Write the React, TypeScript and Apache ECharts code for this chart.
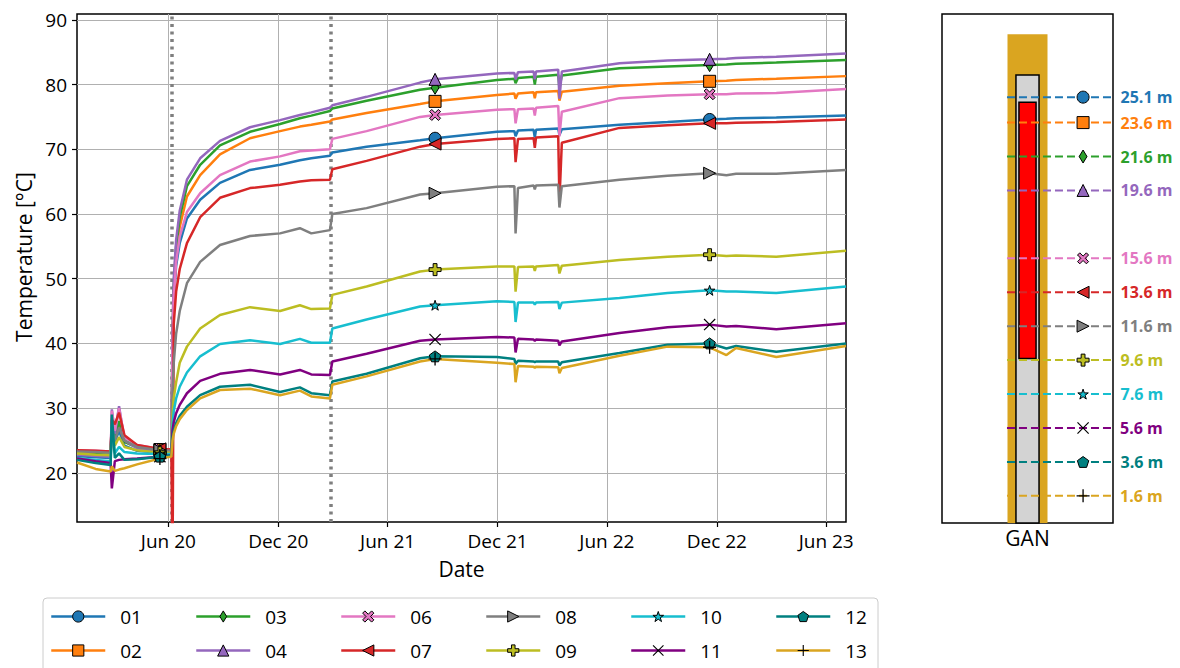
import { useEffect, useRef } from 'react';
import * as echarts from 'echarts';

// Sampling dates shared by every sensor trace
const dates = [
  '2020-01-01', '2020-02-01', '2020-02-26', '2020-02-28', '2020-03-04', '2020-03-11',
  '2020-03-20', '2020-04-10', '2020-05-18', '2020-06-06', '2020-06-08', '2020-06-10',
  '2020-06-14', '2020-06-20', '2020-07-02', '2020-07-24', '2020-08-26', '2020-10-15',
  '2020-12-04', '2021-01-06', '2021-01-25', '2021-02-25', '2021-03-01', '2021-04-27',
  '2021-07-25', '2021-08-19', '2021-11-30', '2021-12-29', '2021-12-31', '2022-01-04',
  '2022-01-30', '2022-02-01', '2022-02-03', '2022-03-12', '2022-03-14', '2022-03-18',
  '2022-06-22', '2022-09-10', '2022-11-19', '2022-12-17', '2023-01-02', '2023-03-10',
  '2023-07-04',
];

// Indices of the dates where the sensor markers are drawn
const markerIndices = [8, 25, 38];

// Temperatures [°C] per sensor
const t01 = [22.6, 22.4, 22.3, 28.0, 24.8, 26.5, 24.2, 23.4, 23.1, 23.0, 38.0, 46.5, 52.0, 55.5, 59.3, 62.2, 64.8, 66.8, 67.6, 68.3, 68.6, 69.0, 69.5, 70.4, 71.4, 71.7, 72.7, 72.8, 72.0, 72.9, 73.0, 71.8, 73.0, 73.2, 72.2, 73.1, 73.8, 74.2, 74.6, 74.7, 74.8, 74.9, 75.2];
const t02 = [23.4, 23.3, 23.2, 27.5, 25.5, 27.5, 24.8, 24.0, 23.6, 23.5, 40.0, 48.0, 53.5, 58.0, 62.7, 66.0, 69.2, 71.7, 72.8, 73.5, 73.8, 74.3, 74.6, 75.6, 77.0, 77.4, 78.4, 78.6, 77.8, 78.6, 78.8, 77.9, 78.8, 79.0, 77.5, 78.9, 79.8, 80.2, 80.5, 80.6, 80.7, 80.9, 81.3];
const t03 = [23.0, 22.9, 22.8, 28.5, 25.5, 28.0, 24.8, 23.9, 23.4, 23.3, 41.0, 49.0, 55.0, 59.5, 64.3, 67.6, 70.6, 72.7, 73.9, 74.8, 75.2, 75.9, 76.3, 77.5, 79.2, 79.5, 80.7, 80.9, 80.2, 81.0, 81.2, 80.0, 81.2, 81.5, 79.5, 81.4, 82.5, 82.8, 83.0, 83.1, 83.2, 83.4, 83.8];
const t04 = [22.8, 22.6, 22.5, 29.8, 26.0, 30.3, 25.0, 23.8, 23.3, 23.2, 42.0, 50.0, 56.0, 60.5, 65.3, 68.6, 71.3, 73.4, 74.5, 75.3, 75.7, 76.4, 76.8, 78.1, 80.3, 80.8, 81.7, 81.8, 80.8, 81.9, 82.0, 80.8, 82.0, 82.3, 77.8, 82.0, 83.3, 83.7, 83.9, 84.0, 84.1, 84.3, 84.8];
const t06 = [23.5, 23.4, 23.3, 29.6, 26.5, 30.0, 25.5, 24.3, 23.7, 23.6, 39.0, 47.0, 52.5, 56.5, 60.3, 63.2, 66.0, 68.1, 68.9, 69.7, 69.8, 70.0, 71.6, 72.8, 75.0, 75.3, 76.1, 76.2, 74.0, 76.2, 76.3, 75.2, 76.4, 76.7, 72.0, 75.8, 77.9, 78.3, 78.5, 78.5, 78.6, 78.7, 79.3];
const t07 = [23.5, 23.4, 23.3, 28.2, 27.5, 29.3, 25.8, 24.3, 23.7, 23.6, 5.0, 43.0, 48.0, 51.5, 55.5, 59.5, 62.5, 64.0, 64.5, 65.0, 65.2, 65.3, 66.9, 68.2, 70.4, 70.8, 71.6, 71.7, 68.0, 71.6, 71.7, 70.2, 71.8, 72.0, 62.0, 71.0, 73.3, 73.7, 74.0, 74.0, 74.1, 74.2, 74.6];
const t08 = [23.3, 23.2, 23.1, 27.0, 25.0, 27.0, 25.0, 24.0, 23.5, 23.4, 33.0, 37.0, 41.5, 45.0, 49.3, 52.6, 55.2, 56.6, 57.0, 57.8, 57.0, 57.5, 60.0, 60.9, 63.0, 63.2, 64.2, 64.3, 57.0, 64.0, 64.4, 63.8, 64.4, 64.5, 61.0, 64.3, 65.3, 65.9, 66.3, 66.0, 66.2, 66.2, 66.8];
const t09 = [23.0, 22.8, 22.7, 26.5, 24.2, 25.5, 24.0, 23.5, 23.1, 23.1, 29.0, 31.5, 34.0, 37.0, 39.5, 42.3, 44.4, 45.6, 45.0, 45.9, 45.3, 45.4, 47.5, 48.8, 51.1, 51.4, 51.9, 51.9, 48.0, 51.8, 51.9, 51.2, 51.9, 52.1, 50.8, 52.0, 52.9, 53.4, 53.7, 53.5, 53.6, 53.4, 54.3];
const t10 = [22.3, 22.0, 21.8, 27.5, 23.0, 24.0, 23.2, 23.0, 22.9, 22.9, 27.5, 29.5, 31.5, 33.3, 35.5, 38.0, 39.9, 40.5, 39.9, 40.7, 40.1, 40.1, 42.3, 43.7, 45.7, 45.9, 46.5, 46.4, 43.3, 46.3, 46.3, 46.0, 46.3, 46.4, 45.3, 46.3, 47.0, 47.8, 48.2, 48.0, 48.0, 47.8, 48.8];
const t11 = [22.2, 21.8, 21.5, 17.6, 21.8, 22.0, 22.1, 22.2, 22.5, 22.7, 26.5, 27.8, 29.2, 30.5, 32.3, 34.2, 35.3, 35.9, 35.2, 35.9, 35.2, 35.1, 37.2, 38.4, 40.4, 40.6, 41.0, 40.9, 38.6, 40.7, 40.6, 40.4, 40.6, 40.4, 39.7, 40.3, 41.6, 42.5, 42.9, 42.6, 42.7, 42.2, 43.1];
const t12 = [22.0, 21.5, 21.2, 29.0, 22.3, 23.0, 22.0, 22.1, 22.5, 22.7, 25.5, 26.5, 27.7, 28.8, 30.2, 32.0, 33.3, 33.6, 32.5, 33.2, 32.3, 32.0, 34.1, 35.3, 37.7, 38.0, 37.9, 37.6, 36.8, 37.3, 37.2, 37.1, 37.2, 37.2, 36.6, 37.1, 38.5, 39.8, 40.0, 39.2, 39.6, 38.7, 40.0];
const t13 = [21.6, 20.6, 20.2, 21.0, 20.3, 20.5, 20.7, 21.3, 22.2, 22.5, 25.0, 26.0, 27.2, 28.3, 29.7, 31.5, 32.8, 33.0, 32.0, 32.7, 31.8, 31.5, 33.6, 34.9, 37.2, 37.6, 37.0, 36.8, 34.0, 36.5, 36.4, 36.2, 36.4, 36.3, 35.4, 36.2, 38.1, 39.5, 39.4, 38.2, 39.3, 37.9, 39.6];

const sensorNames = ['01', '02', '03', '04', '06', '07', '08', '09', '10', '11', '12', '13'];
const sensorValues = [t01, t02, t03, t04, t06, t07, t08, t09, t10, t11, t12, t13];
// Installation depth of each sensor [m]
const sensorDepths = [25.1, 23.6, 21.6, 19.6, 15.6, 13.6, 11.6, 9.6, 7.6, 5.6, 3.6, 1.6];

// Axis ticks
const xStart = '2020-01-01';
const xEnd = '2023-07-04';
const xTickDates = ['2020-06-01', '2020-12-01', '2021-06-01', '2021-12-01', '2022-06-01', '2022-12-01', '2023-06-01'];
const xTickLabels = ['Jun 20', 'Dec 20', 'Jun 21', 'Dec 21', 'Jun 22', 'Dec 22', 'Jun 23'];
const yTicks = [20, 30, 40, 50, 60, 70, 80, 90];
// Phase changes (heating start, change of operation)
const eventDates = ['2020-06-06', '2021-02-26'];

// Borehole schematic: half width, bottom depth, top depth [m]
const wellHalfWidths = [0.234, 0.135, 0.1];
const wellBottoms = [0, 0, 9.7];
const wellTops = [28.8, 26.4, 24.8];

const FONT = '"Open Sans", "Noto Sans", sans-serif';

const P = (d: string) => `path://M0 0 M10 10 ${d}`;
const MK = {
  thinDiamond: P('M5 0 L8 5 L5 10 L2 5 Z'),
  xFilled: P('M2 0 L5 3 L8 0 L10 2 L7 5 L10 8 L8 10 L5 7 L2 10 L0 8 L3 5 L0 2 Z'),
  triLeft: P('M0 5 L10 0 L10 10 Z'),
  triRight: P('M10 5 L0 0 L0 10 Z'),
  plusFilled: P('M3.4 0 L6.6 0 L6.6 3.4 L10 3.4 L10 6.6 L6.6 6.6 L6.6 10 L3.4 10 L3.4 6.6 L0 6.6 L0 3.4 L3.4 3.4 Z'),
  star: P('M5 0.5 L6.12 3.95 L9.76 3.95 L6.82 6.09 L7.94 9.55 L5 7.41 L2.06 9.55 L3.18 6.09 L0.24 3.95 L3.88 3.95 Z'),
  xThin: P('M0 0.7 L0.7 0 L5 4.3 L9.3 0 L10 0.7 L5.7 5 L10 9.3 L9.3 10 L5 5.7 L0.7 10 L0 9.3 L4.3 5 Z'),
  pentagon: P('M5 0.5 L9.76 3.95 L7.94 9.55 L2.06 9.55 L0.24 3.95 Z'),
  plusThin: P('M4.5 0 L5.5 0 L5.5 4.5 L10 4.5 L10 5.5 L5.5 5.5 L5.5 10 L4.5 10 L4.5 5.5 L0 5.5 L0 4.5 L4.5 4.5 Z'),
};

const styles = [
  { color: '#1f77b4', symbol: 'circle', size: 12, fill: '#1f77b4', edge: 1 },
  { color: '#ff7f0e', symbol: 'rect', size: 12, fill: '#ff7f0e', edge: 1 },
  { color: '#2ca02c', symbol: MK.thinDiamond, size: 13, fill: '#2ca02c', edge: 1 },
  { color: '#9467bd', symbol: 'triangle', size: 12, fill: '#9467bd', edge: 1 },
  { color: '#e377c2', symbol: MK.xFilled, size: 11, fill: '#e377c2', edge: 1 },
  { color: '#d62728', symbol: MK.triLeft, size: 12, fill: '#d62728', edge: 1 },
  { color: '#7f7f7f', symbol: MK.triRight, size: 12, fill: '#7f7f7f', edge: 1 },
  { color: '#bcbd22', symbol: MK.plusFilled, size: 12, fill: '#bcbd22', edge: 1 },
  { color: '#17becf', symbol: MK.star, size: 11, fill: '#17becf', edge: 1 },
  { color: '#800080', symbol: MK.xThin, size: 12, fill: '#000000', edge: 0 },
  { color: '#008080', symbol: MK.pentagon, size: 12, fill: '#008080', edge: 1 },
  { color: '#daa520', symbol: MK.plusThin, size: 13, fill: '#000000', edge: 0 },
];
const wellStyles = [
  { fill: '#daa520', stroke: null, lw: 0 },
  { fill: '#d3d3d3', stroke: '#000000', lw: 1.5 },
  { fill: '#ff0000', stroke: '#000000', lw: 1.5 },
];

// Days elapsed since the start of the record
const DAY = 86400000;
const dayOf = (s: string) => {
  const [y, m, d] = s.split('-').map(Number);
  return (Date.UTC(y, m - 1, d) - Date.UTC(2020, 0, 1)) / DAY;
};

function buildOption() {
  const xTickDays = xTickDates.map(dayOf);

  const mainSeries = sensorNames.map((name, k) => {
    const st = styles[k];
    return {
      type: 'line',
      name,
      xAxisIndex: 0,
      yAxisIndex: 0,
      z: 3,
      silent: true,
      symbol: st.symbol,
      symbolSize: st.size,
      showSymbol: true,
      showAllSymbol: true,
      lineStyle: { color: st.color, width: 2.5 },
      itemStyle: { color: st.fill, borderColor: '#000', borderWidth: st.edge },
      emphasis: { disabled: true },
      data: dates.map((d, i) =>
        markerIndices.includes(i)
          ? { value: [dayOf(d), sensorValues[k][i]] }
          : { value: [dayOf(d), sensorValues[k][i]], symbol: 'none' }
      ),
    };
  });

  const depthSeries = sensorNames.map((name, k) => {
    const st = styles[k];
    const depth = sensorDepths[k];
    return {
      type: 'line',
      name: 'depth ' + name,
      xAxisIndex: 1,
      yAxisIndex: 1,
      z: 4,
      silent: true,
      clip: false,
      symbol: st.symbol,
      symbolSize: st.size,
      showSymbol: true,
      showAllSymbol: true,
      lineStyle: { color: st.color, width: 2, type: [8, 4] },
      itemStyle: { color: st.fill, borderColor: '#000', borderWidth: st.edge },
      emphasis: { disabled: true },
      data: [
        { value: [-0.24, depth], symbol: 'none' },
        {
          value: [0.65, depth],
          label: {
            show: true,
            position: 'right',
            distance: 37 - st.size / 2,
            formatter: `${depth.toFixed(1)} m`,
            color: st.color,
            fontWeight: 'bold',
            fontSize: 16,
            fontFamily: FONT,
          },
        },
        { value: [1, depth], symbol: 'none' },
      ],
    };
  });

  const wellSeries = {
    type: 'custom',
    xAxisIndex: 1,
    yAxisIndex: 1,
    z: 2,
    silent: true,
    data: wellHalfWidths.map((h, i) => [-h, h, wellBottoms[i], wellTops[i], i]),
    renderItem: (_p: any, api: any) => {
      const i = api.value(4);
      const a = api.coord([api.value(0), api.value(3)]);
      const b = api.coord([api.value(1), api.value(2)]);
      const ws = wellStyles[i];
      return {
        type: 'rect',
        shape: { x: a[0], y: a[1], width: b[0] - a[0], height: b[1] - a[1] },
        style: { fill: ws.fill, stroke: ws.stroke, lineWidth: ws.lw },
      };
    },
  };

  const gridSeries = {
    type: 'line',
    name: 'grid',
    xAxisIndex: 0,
    yAxisIndex: 0,
    data: [],
    silent: true,
    z: 1,
    markLine: {
      silent: true,
      symbol: ['none', 'none'],
      z: 1,
      animation: false,
      label: { show: false },
      lineStyle: { color: '#b0b0b0', width: 1, type: 'solid' },
      emphasis: { disabled: true },
      data: [
        ...xTickDays.map((d) => ({ xAxis: d })),
        ...yTicks.map((v) => ({ yAxis: v })),
        ...eventDates.map((d) => ({
          xAxis: dayOf(d),
          lineStyle: { color: '#7f7f7f', width: 3.5, type: [3, 4.5] },
        })),
      ],
    },
  };

  const columns = [['01', '02'], ['03', '04'], ['06', '07'], ['08', '09'], ['10', '11'], ['12', '13']];
  const legends = columns.map((names, c) => ({
    orient: 'vertical',
    left: 50 + c * 145,
    top: 607,
    padding: 0,
    itemGap: 15,
    itemWidth: 54,
    itemHeight: 14,
    selectedMode: false,
    lineStyle: { width: 2.5 },
    itemStyle: { borderColor: '#000', borderWidth: 1 },
    textStyle: { fontSize: 19, color: '#000', fontFamily: FONT, padding: [0, 0, 0, 10] },
    data: names.map((n) => {
      const st = styles[sensorNames.indexOf(n)];
      return { name: n, itemStyle: { color: st.fill, borderColor: '#000', borderWidth: st.edge } };
    }),
  }));

  return {
    animation: false,
    backgroundColor: '#ffffff',
    textStyle: { fontFamily: FONT },
    grid: [
      { left: 77, top: 14, width: 769, height: 508, show: true, borderColor: '#000', borderWidth: 1.5, backgroundColor: 'transparent' },
      { left: 942, top: 14, width: 171, height: 509, show: true, borderColor: '#000', borderWidth: 1.5, backgroundColor: 'transparent' },
    ],
    xAxis: [
      {
        type: 'value',
        gridIndex: 0,
        min: dayOf(xStart),
        max: dayOf(xEnd),
        axisLine: { show: false },
        splitLine: { show: false },
        axisTick: { show: true, customValues: xTickDays, length: 5, lineStyle: { color: '#000', width: 1.2 } },
        axisLabel: {
          customValues: xTickDays,
          formatter: (v: number) => {
            const i = xTickDays.indexOf(v);
            return i >= 0 ? xTickLabels[i] : '';
          },
          color: '#000',
          fontSize: 19,
          margin: 9,
          fontFamily: FONT,
        },
        name: 'Date',
        nameLocation: 'middle',
        nameGap: 36,
        nameTextStyle: { color: '#000', fontSize: 21, fontFamily: FONT },
      },
      {
        type: 'value',
        gridIndex: 1,
        min: -1,
        max: 1,
        axisLine: { show: false },
        axisTick: { show: false },
        axisLabel: { show: false },
        splitLine: { show: false },
        name: 'GAN',
        nameLocation: 'middle',
        nameGap: 4,
        nameTextStyle: { color: '#000', fontSize: 21, fontFamily: FONT, verticalAlign: 'top' },
      },
    ],
    yAxis: [
      {
        type: 'value',
        gridIndex: 0,
        min: 12.4,
        max: 90.9,
        axisLine: { show: false },
        splitLine: { show: false },
        axisTick: { show: true, customValues: yTicks, length: 5, lineStyle: { color: '#000', width: 1.2 } },
        axisLabel: { customValues: yTicks, color: '#000', fontSize: 19, margin: 10, fontFamily: FONT },
        name: 'Temperature [°C]',
        nameLocation: 'middle',
        nameGap: 40,
        nameTextStyle: { color: '#000', fontSize: 21, fontFamily: FONT, padding: [0, 0, 0, 22] },
      },
      {
        type: 'value',
        gridIndex: 1,
        min: 0,
        max: 30,
        axisLine: { show: false },
        axisTick: { show: false },
        axisLabel: { show: false },
        splitLine: { show: false },
      },
    ],
    legend: legends,
    graphic: [
      {
        type: 'rect',
        z: -1,
        shape: { x: 43, y: 598, width: 835, height: 90, r: 4 },
        style: { fill: '#ffffff', stroke: '#cccccc', lineWidth: 1 },
        silent: true,
      },
    ],
    series: [gridSeries, ...mainSeries, wellSeries, ...depthSeries],
  };
}

export default function App() {
  const ref = useRef<HTMLDivElement>(null);
  useEffect(() => {
    if (!ref.current) return;
    const chart = echarts.init(ref.current, null, { renderer: 'svg' });
    chart.setOption(buildOption() as any);
    return () => chart.dispose();
  }, []);
  return (
    <div
      ref={ref}
      style={{ position: 'fixed', left: 0, top: 0, width: 1180, height: 668, background: '#fff' }}
    />
  );
}
